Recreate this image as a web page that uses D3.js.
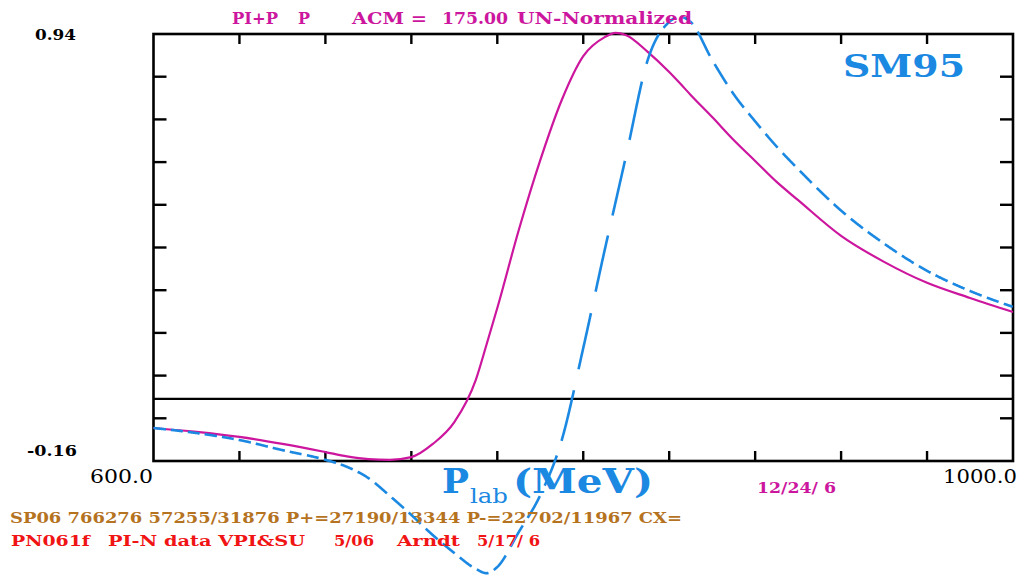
<!DOCTYPE html>
<html>
<head>
<meta charset="utf-8">
<script src="https://cdn.jsdelivr.net/npm/d3@7"></script>
<style>
  html, body { margin: 0; padding: 0; background: #fff; }
  svg { display: block; }
</style>
</head>
<body>
<svg id="chart" width="1028" height="575"></svg>
<script>
// ---- data ----
const energyGrid = [600,620,640,660,680,690,700,710,720,730,740,750,755,760,770,780,790,800,810,815,820,830,840,845,850,860,870,880,890,900,920,940,960,980,1000];
const sp06 = [-0.075,-0.085,-0.098,-0.116,-0.137,-0.148,-0.155,-0.157,-0.150,-0.116,-0.060,0.049,0.140,0.234,0.435,0.615,0.770,0.883,0.932,0.943,0.937,0.894,0.842,0.813,0.783,0.726,0.667,0.613,0.559,0.512,0.420,0.353,0.299,0.260,0.224];
const sm95 = [-0.075,-0.088,-0.106,-0.132,-0.157,-0.175,-0.204,-0.250,-0.299,-0.351,-0.397,-0.438,-0.449,-0.433,-0.343,-0.248,-0.106,0.131,0.384,0.506,0.628,0.873,0.971,0.984,0.971,0.873,0.785,0.715,0.650,0.592,0.485,0.400,0.330,0.278,0.237];
const xDomain = [600, 1000];
const yDomain = [-0.16, 0.94];
const xTickValues = [640,680,720,760,800,840,880,920,960];
const yTickValues = [1,2,3,4,5,6,7,8,9].map(k => -0.16 + 0.11*k);
const xLabels = ["600.0", "1000.0"];
const yLabels = ["0.94", "-0.16"];

// ---- layout ----
const svg = d3.select("#chart");
const L = 153.5, R = 1013, T = 34, B = 461;
const x = d3.scaleLinear().domain(xDomain).range([L, R]);
const y = d3.scaleLinear().domain(yDomain).range([B, T]);

const MAG = "#cc169e", BLUE = "#1b88e2", BROWN = "#b5731f", RED = "#f01414";
const SERIF = "'DejaVu Serif', 'Liberation Serif', serif";

// frame
svg.append("rect").attr("x", L).attr("y", T).attr("width", R - L).attr("height", B - T)
  .attr("fill", "none").attr("stroke", "#000").attr("stroke-width", 2.6);

// ticks
const g = svg.append("g").attr("stroke", "#000").attr("stroke-width", 2.4);
xTickValues.forEach(v => {
  g.append("line").attr("x1", x(v)).attr("x2", x(v)).attr("y1", T).attr("y2", T + 10);
  g.append("line").attr("x1", x(v)).attr("x2", x(v)).attr("y1", B).attr("y2", B - 10);
});
yTickValues.forEach(v => {
  g.append("line").attr("y1", y(v)).attr("y2", y(v)).attr("x1", L).attr("x2", L + 13);
  g.append("line").attr("y1", y(v)).attr("y2", y(v)).attr("x1", R).attr("x2", R - 13);
});
// zero line
svg.append("line").attr("x1", L).attr("x2", R).attr("y1", y(0)).attr("y2", y(0))
  .attr("stroke", "#000").attr("stroke-width", 2.2);

// curves
const line = d3.line().x(d => x(d[0])).y(d => y(d[1])).curve(d3.curveMonotoneX);
const magData = energyGrid.map((e, i) => [e, sp06[i]]);
const blueData = energyGrid.map((e, i) => [e, sm95[i]]);

svg.append("path").attr("d", line(magData)).attr("fill", "none")
  .attr("stroke", MAG).attr("stroke-width", 2.2);

// blue dashed: dash pattern defined along x
const tmp = svg.append("path").attr("d", line(blueData)).attr("fill", "none").attr("stroke", "none");
const node = tmp.node();
const total = node.getTotalLength();
const period = 17, on = 12.5;
const runs = [];
let cur = null;
for (let s = 0; s <= total; s += 0.5) {
  const p = node.getPointAtLength(s);
  const phase = ((p.x - L) % period + period) % period;
  if (phase < on) {
    if (!cur) { cur = []; runs.push(cur); }
    cur.push([p.x, p.y]);
  } else cur = null;
}
tmp.remove();
const seg = d3.line();
svg.append("g").selectAll("path").data(runs).join("path")
  .attr("d", d => seg(d)).attr("fill", "none")
  .attr("stroke", BLUE).attr("stroke-width", 2.6);

// ---- text ----
function txt(s, xx, yy, opts) {
  const t = svg.append("text").attr("x", xx).attr("y", yy).text(s)
    .attr("font-family", SERIF).attr("font-size", opts.size)
    .attr("font-weight", opts.weight || "bold").attr("fill", opts.color || "#000");
  if (opts.w) t.attr("textLength", opts.w).attr("lengthAdjust", "spacingAndGlyphs");
  return t;
}
// axis labels
txt(yLabels[0], 35, 40, {size: 15, w: 41});
txt(yLabels[1], 27, 456, {size: 15, w: 50});
txt(xLabels[0], 90, 483, {size: 18, weight: "normal", w: 63});
txt(xLabels[1], 943, 483, {size: 18, weight: "normal", w: 74});

// title
txt("PI+P", 232, 24, {size: 16, color: MAG, w: 46});
txt("P", 298, 24, {size: 16, color: MAG, w: 12});
txt("ACM =", 352, 24, {size: 16, color: MAG, w: 75});
txt("175.00", 442, 24, {size: 16, color: MAG, w: 66});
txt("UN-Normalized", 517, 24, {size: 16, color: MAG, w: 175});

// SM95
txt("SM95", 843, 77, {size: 32, color: BLUE, w: 122});

// P_lab (MeV)
txt("P", 442, 493, {size: 34, color: BLUE, w: 27});
txt("lab", 470, 503, {size: 21, color: BLUE, weight: "normal", w: 38});
txt("(MeV)", 513, 493, {size: 34, color: BLUE, w: 140});

// date
txt("12/24/ 6", 757, 493, {size: 15, color: MAG, w: 79});

// footer lines
txt("SP06 766276 57255/31876 P+=27190/13344 P-=22702/11967 CX=", 10, 523, {size: 15, color: BROWN, w: 672});
txt("PN061f", 11, 546, {size: 15, color: RED, w: 79});
txt("PI-N data VPI&SU", 108, 546, {size: 15, color: RED, w: 197});
txt("5/06", 334, 546, {size: 15, color: RED, w: 40});
txt("Arndt", 397, 546, {size: 15, color: RED, w: 63});
txt("5/17/ 6", 477, 546, {size: 15, color: RED, w: 63});
</script>
</body>
</html>
